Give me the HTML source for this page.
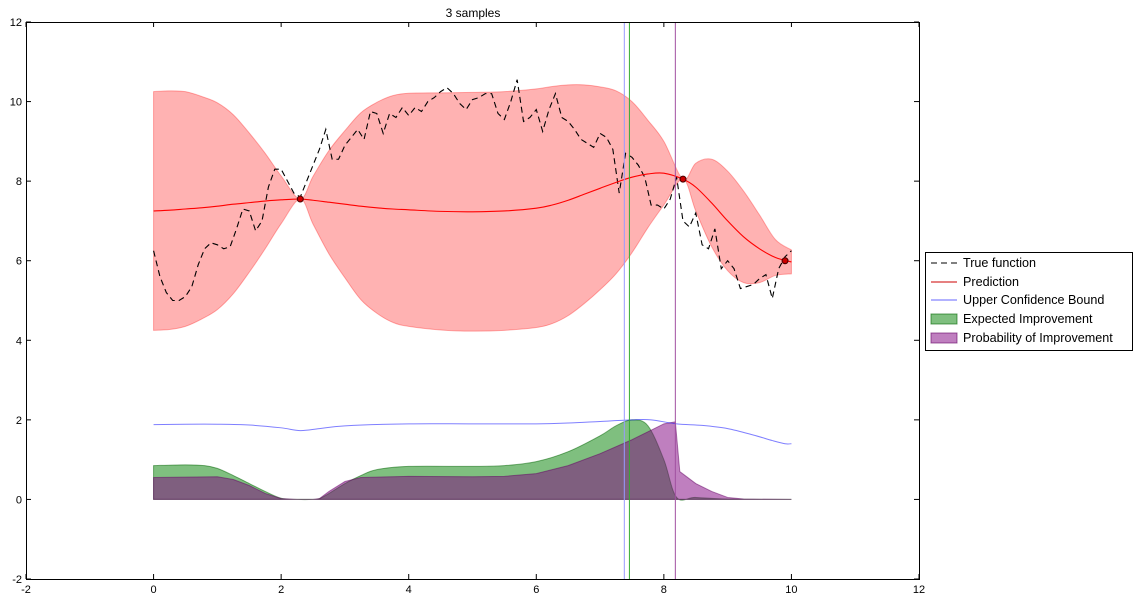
<!DOCTYPE html>
<html><head><meta charset="utf-8"><style>
body{margin:0;background:#fff;font-family:"Liberation Sans",sans-serif}
svg{display:block}
text{font-family:"Liberation Sans",sans-serif}
</style></head><body>
<svg id="chart" width="1139" height="601" viewBox="0 0 1139 601" xmlns="http://www.w3.org/2000/svg">
<text x="473" y="17" font-size="12" text-anchor="middle">3 samples</text>
<g id="plot"></g>
<g id="legend">
<rect x="925.5" y="252.5" width="207" height="98" fill="#fff" stroke="#000"/>
<g><line x1="931" y1="263" x2="957" y2="263" stroke="#000" stroke-dasharray="6,4"/><text x="963" y="267" font-size="12.6">True function</text></g>
<g><line x1="931" y1="282" x2="957" y2="282" stroke="#c00" stroke-width="1"/><text x="963" y="286" font-size="12.6">Prediction</text></g>
<g><line x1="931" y1="300" x2="957" y2="300" stroke="#66f"/><text x="963" y="304" font-size="12.6">Upper Confidence Bound</text></g>
<g><rect x="931" y="314" width="26" height="10" fill="rgba(0,128,0,0.5)" stroke="rgba(0,100,0,0.6)"/><text x="963" y="323" font-size="12.6">Expected Improvement</text></g>
<g><rect x="931" y="333" width="26" height="10" fill="rgba(128,0,128,0.5)" stroke="rgba(100,0,100,0.6)"/><text x="963" y="342" font-size="12.6">Probability of Improvement</text></g>
</g>
</svg>
<script>
const xTicks=[-2,0,2,4,6,8,10,12];
const yTicks=[-2,0,2,4,6,8,10,12];
const trueX=[0,0.1,0.2,0.3,0.4,0.5,0.6,0.7,0.8,0.9,1,1.1,1.2,1.3,1.4,1.5,1.6,1.7,1.8,1.9,2,2.1,2.2,2.3,2.4,2.5,2.6,2.7,2.8,2.9,3,3.1,3.2,3.3,3.4,3.5,3.6,3.7,3.8,3.9,4,4.1,4.2,4.3,4.4,4.5,4.6,4.7,4.8,4.9,5,5.1,5.2,5.3,5.4,5.5,5.6,5.7,5.8,5.9,6,6.1,6.2,6.3,6.4,6.5,6.6,6.7,6.8,6.9,7,7.1,7.2,7.3,7.4,7.5,7.6,7.7,7.8,7.9,8,8.1,8.2,8.3,8.4,8.5,8.6,8.7,8.8,8.9,9,9.1,9.2,9.3,9.4,9.5,9.6,9.7,9.8,9.9,10];
const trueY=[6.25,5.6,5.2,5.0,5.0,5.1,5.35,5.9,6.3,6.45,6.4,6.3,6.35,6.8,7.3,7.25,6.75,7.0,7.85,8.3,8.3,8.0,7.7,7.6,8.0,8.4,8.8,9.3,8.55,8.55,8.9,9.1,9.3,9.05,9.75,9.7,9.2,9.7,9.6,9.85,9.65,9.85,9.75,10.0,10.1,10.25,10.35,10.2,9.95,9.8,10.05,10.1,10.2,10.2,9.7,9.55,10.0,10.55,9.5,9.6,9.8,9.25,9.8,10.2,9.6,9.5,9.3,9.05,8.95,8.85,9.2,9.1,8.8,7.7,8.7,8.6,8.4,8.1,7.4,7.4,7.3,7.55,8.1,7.0,6.85,7.2,6.4,6.3,6.8,5.8,6.0,5.8,5.3,5.35,5.4,5.55,5.65,5.05,5.8,6.1,6.25];
const gpX=[0,0.25,0.5,0.75,1,1.25,1.5,1.75,2,2.3,2.5,2.75,3,3.25,3.5,3.75,4,4.5,5,5.5,6,6.25,6.5,6.75,7,7.25,7.5,7.75,8,8.3,8.5,8.75,9,9.25,9.5,9.75,10];
const gpMean=[7.25,7.27,7.3,7.33,7.37,7.42,7.46,7.5,7.53,7.55,7.52,7.47,7.42,7.37,7.33,7.3,7.28,7.24,7.23,7.25,7.32,7.4,7.52,7.67,7.82,7.97,8.1,8.18,8.2,8.05,7.85,7.45,7.0,6.6,6.3,6.08,5.97];
const gpStd=[3.0,3.0,2.95,2.8,2.6,2.25,1.75,1.2,0.6,0.0,0.6,1.3,1.85,2.35,2.65,2.85,2.93,2.98,3.0,3.0,3.0,2.98,2.9,2.75,2.55,2.3,1.9,1.35,0.8,0.0,0.6,1.1,1.25,1.15,0.85,0.45,0.3];
const ucbX=[0,0.5,1,1.5,2,2.3,2.6,3,4,5,6,6.5,7,7.5,7.8,8.2,8.6,9,9.4,9.7,9.9,10];
const ucbY=[1.88,1.89,1.89,1.87,1.8,1.73,1.78,1.85,1.9,1.9,1.9,1.92,1.96,2.0,2.0,1.9,1.86,1.78,1.62,1.48,1.4,1.4];
const eiX=[0,0.5,0.8,1,1.25,1.5,1.75,2,2.25,2.5,2.6,2.75,3,3.25,3.5,4,5,5.5,6,6.5,7,7.25,7.5,7.75,8,8.2,8.5,9,10];
const eiY=[0.85,0.87,0.85,0.78,0.6,0.4,0.2,0.03,0,0,0.02,0.15,0.4,0.6,0.75,0.83,0.83,0.85,0.95,1.2,1.6,1.85,2.0,1.85,1.0,0.05,0.05,0.01,0];
const piX=[0,1,1.25,1.5,1.75,2,2.25,2.5,2.6,2.75,3,3.25,4,5,5.5,6,6.5,7,7.5,7.75,8,8.18,8.25,8.5,8.75,9,9.25,10];
const piY=[0.55,0.57,0.5,0.35,0.15,0.02,0,0,0.02,0.2,0.45,0.55,0.58,0.57,0.58,0.65,0.85,1.15,1.5,1.7,1.9,1.95,0.7,0.4,0.2,0.05,0.01,0];
const sampleX=[2.3,8.3,9.9];
const sampleY=[7.55,8.05,6.0];
const vlineX=[7.38,7.46,8.18];
const vlineColor=['#99f','#3a3','#a050a0'];
const L=26,R=919,T=22,B=579;
const sx=v=>L+(v+2)/14*(R-L);
const sy=v=>B-(v+2)/14*(B-T);
const NS='http://www.w3.org/2000/svg';
const plot=document.getElementById('plot');
function mk(tag,attrs,parent){const e=document.createElementNS(NS,tag);for(const k in attrs)e.setAttribute(k,attrs[k]);(parent||plot).appendChild(e);return e;}
function pts(xs,ys){return xs.map((x,i)=>[sx(x),sy(ys[i])]);}
function smooth(p){let d='M'+p[0][0]+','+p[0][1];for(let i=0;i<p.length-1;i++){const p0=p[Math.max(0,i-1)],p1=p[i],p2=p[i+1],p3=p[Math.min(p.length-1,i+2)];const c1=[p1[0]+(p2[0]-p0[0])/6,p1[1]+(p2[1]-p0[1])/6],c2=[p2[0]-(p3[0]-p1[0])/6,p2[1]-(p3[1]-p1[1])/6];d+=' C'+c1[0]+','+c1[1]+' '+c2[0]+','+c2[1]+' '+p2[0]+','+p2[1];}return d;}
function lin(p){return 'M'+p.map(q=>q[0]+','+q[1]).join(' L');}
const up=gpX.map((x,i)=>gpMean[i]+gpStd[i]);
const lo=gpX.map((x,i)=>gpMean[i]-gpStd[i]);
const pu=pts(gpX,up),pl=pts(gpX,lo).reverse();
const band=mk('path',{d:smooth(pu)+' L'+smooth(pl).slice(1)+' Z',fill:'rgba(255,0,0,0.3)',stroke:'rgba(255,0,0,0.3)'});


function area(xs,ys,fill,stroke,name,sm){const p=pts(xs,ys);const e=mk('path',{d:(sm?smooth(p):lin(p))+' L'+sx(xs[xs.length-1])+','+sy(0)+' L'+sx(xs[0])+','+sy(0)+' Z',fill:fill,stroke:stroke});

}
area(eiX,eiY,'rgba(0,128,0,0.5)','rgba(0,100,0,0.5)','ei-area',true);
area(piX,piY,'rgba(128,0,128,0.5)','rgba(100,0,100,0.5)','pi-area',false);
const ucb=mk('path',{d:smooth(pts(ucbX,ucbY)),fill:'none',stroke:'rgba(0,0,255,0.5)','stroke-width':1});


const tf=mk('path',{d:lin(pts(trueX,trueY)),fill:'none',stroke:'#000','stroke-width':1.1,'stroke-dasharray':'6,4'});


const pr=mk('path',{d:smooth(pts(gpX,gpMean)),fill:'none',stroke:'#f00','stroke-width':1.1});


vlineX.forEach((v,i)=>{const e=mk('line',{x1:sx(v),x2:sx(v),y1:T,y2:B,stroke:vlineColor[i],'stroke-width':1});

});
sampleX.forEach((v,i)=>{const e=mk('circle',{cx:sx(v),cy:sy(sampleY[i]),r:3,fill:'#c00',stroke:'#400'});

});
const fr=mk('rect',{x:L+0.5,y:T+0.5,width:R-L,height:B-T,fill:'none',stroke:'#000'});


xTicks.forEach(v=>{const x=sx(v);mk('line',{x1:x,x2:x,y1:B,y2:B-5,stroke:'#000'});mk('line',{x1:x,x2:x,y1:T,y2:T+5,stroke:'#000'});
const t=mk('text',{x:x,y:B+14,'font-size':11,'text-anchor':'middle'});t.textContent=v;

});
yTicks.forEach(v=>{const y=sy(v);mk('line',{x1:L,x2:L+5,y1:y,y2:y,stroke:'#000'});mk('line',{x1:R,x2:R-5,y1:y,y2:y,stroke:'#000'});
const t=mk('text',{x:L-4,y:y+4,'font-size':11,'text-anchor':'end'});t.textContent=v;

});
</script>
</body></html>
